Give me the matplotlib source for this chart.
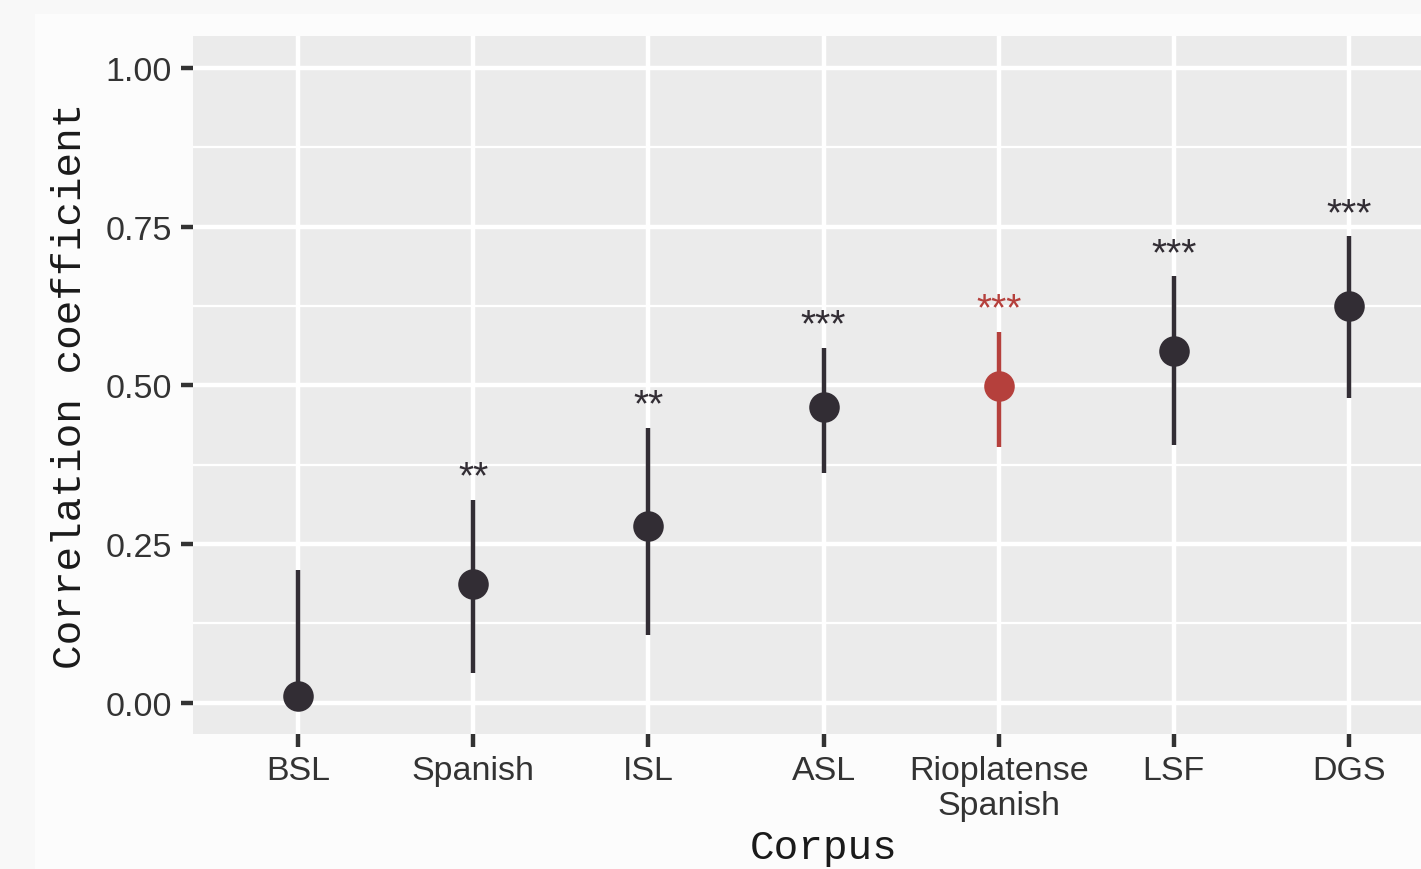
import matplotlib
matplotlib.use("Agg")
import matplotlib.pyplot as plt
from matplotlib.patches import Rectangle
from matplotlib.ticker import MultipleLocator

corpora = ["BSL", "Spanish", "ISL", "ASL", "Rioplatense\nSpanish", "LSF", "DGS"]
estimate = [0.011, 0.187, 0.279, 0.466, 0.499, 0.554, 0.625]
lower = [0.0, 0.047, 0.107, 0.362, 0.403, 0.406, 0.480]
upper = [0.209, 0.320, 0.433, 0.559, 0.584, 0.672, 0.735]
stars = ["", "**", "**", "***", "***", "***", "***"]
highlight = [False, False, False, False, True, False, False]

DARK = "#322d34"
RED = "#b5403c"
TEXT = "#333333"

W, H = 1421, 870
fig = plt.figure(figsize=(W / 100, H / 100), dpi=100, facecolor="#f8f8f8")
fig.patches.append(Rectangle((35 / W, 0), 1, 1 - 15 / H, transform=fig.transFigure,
                             facecolor="#fcfcfc", edgecolor="none", zorder=-10))

left, right, top, bottom = 193, 1454, 37, 735
ax = fig.add_axes([left / W, 1 - bottom / H, (right - left) / W, (bottom - top) / H])
ax.set_facecolor("#ebebeb")
for s in ax.spines.values():
    s.set_visible(False)

x = list(range(len(corpora)))
ax.set_xlim(-0.6, len(corpora) - 1 + 0.6)
ax.set_ylim(-0.049, 1.050)
ax.yaxis.set_major_locator(MultipleLocator(0.25))
ax.yaxis.set_minor_locator(MultipleLocator(0.125))
ax.set_xticks(x)
ax.set_xticklabels(corpora, fontsize=24.5, color=TEXT, family="Liberation Sans",
                   linespacing=1.17)
ax.set_yticks([0, 0.25, 0.5, 0.75, 1.0])
ax.set_yticklabels(["0.00", "0.25", "0.50", "0.75", "1.00"], fontsize=24.5,
                   color=TEXT, family="Liberation Sans")
ax.tick_params(axis="both", which="major", length=9, width=3.2, color=TEXT, pad=6)
ax.tick_params(axis="both", which="minor", length=0)
ax.grid(True, which="major", color="white", linewidth=3.2)
ax.grid(True, which="minor", axis="y", color="white", linewidth=1.6)
ax.set_axisbelow(True)

for i in x:
    c = RED if highlight[i] else DARK
    ax.plot([i, i], [lower[i], upper[i]], color=c, linewidth=3.2,
            solid_capstyle="butt", zorder=3)
    ax.plot(i, estimate[i], "o", color=c, markersize=22, markeredgewidth=0, zorder=4)
    if stars[i]:
        ax.text(i, upper[i] + 0.035, stars[i], ha="center", va="center",
                fontsize=28, color=c, family="Liberation Sans", zorder=5)

ax.set_xlabel("Corpus", fontsize=29.5, family="Liberation Mono", color="#1a1a1a",
              labelpad=5)
ax.set_ylabel("Correlation coefficient", fontsize=29.5, family="Liberation Mono",
              color="#1a1a1a", labelpad=12)

fig.savefig("out.png", dpi=100, facecolor=fig.get_facecolor())
